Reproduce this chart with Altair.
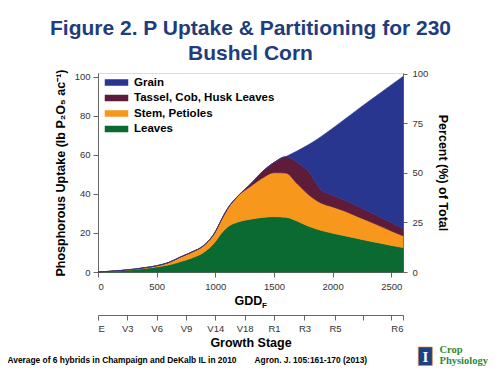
import altair as alt
import pandas as pd

# ---------------- data ----------------
gdd = [0, 100, 200, 300, 400, 500, 600, 700, 800, 900, 1000, 1050, 1100, 1200,
       1300, 1400, 1500, 1600, 1700, 1800, 1900, 2000, 2100, 2200, 2300, 2400, 2500, 2600]
# cumulative top of each layer (lb P2O5 / ac)
leaves_top = [0, 0.3, 0.7, 1.2, 1.8, 2.6, 3.6, 5.2, 7.2, 10.0, 15.5, 19.7, 22.8, 25.7,
              27.0, 27.9, 28.3, 28.0, 26.0, 23.3, 21.3, 19.8, 18.6, 17.3, 16.0, 14.8, 13.6, 12.5]
stem_top = [0, 0.35, 0.8, 1.4, 2.2, 3.2, 4.8, 7.6, 10.2, 13.5, 20.6, 26.5, 32.0, 39.3,
            43.8, 48.0, 50.8, 50.6, 45.0, 39.3, 35.3, 33.3, 31.2, 28.7, 26.2, 23.6, 21.0, 18.5]
tassel_top = [0, 0.35, 0.8, 1.4, 2.2, 3.2, 4.8, 7.6, 10.2, 13.5, 20.6, 26.5, 32.0, 39.3,
              45.0, 51.3, 56.0, 59.0, 56.0, 51.0, 42.2, 39.3, 36.8, 34.0, 31.2, 28.3, 25.3, 22.3]
grain_top = [0, 0.35, 0.8, 1.4, 2.2, 3.2, 4.8, 7.6, 10.2, 13.5, 20.6, 26.5, 32.0, 39.3,
             45.0, 51.3, 56.0, 59.0, 62.0, 65.3, 69.2, 73.5, 78.0, 82.5, 87.0, 91.3, 95.7, 100.0]

series = ["Grain", "Tassel, Cob, Husk Leaves", "Stem, Petioles", "Leaves"]
colors = ["#283690", "#5e1b3a", "#f7981c", "#0b6a31"]

gdd_ticks = [0, 500, 1000, 1500, 2000, 2500]
uptake_ticks = [0, 20, 40, 60, 80, 100]
pct_ticks = [0, 25, 50, 75, 100]
stage_gdd = [0, 250, 500, 750, 1000, 1250, 1500, 1760, 2020, 2260, 2500, 2600]
stage_names = ["E", "V3", "V6", "V9", "V14", "V18", "R1", "R3", "R5", "", "", "R6"]

title_lines = ["Figure 2. P Uptake & Partitioning for 230", "Bushel Corn"]
footer_left = "Average of 6 hybrids in Champaign and DeKalb IL in 2010"
footer_right = "Agron. J. 105:161-170 (2013)"

# ---------------- table ----------------
tops = {
    "Leaves": leaves_top,
    "Stem, Petioles": stem_top,
    "Tassel, Cob, Husk Leaves": tassel_top,
    "Grain": grain_top,
}
rows = []
lower = [0] * len(gdd)
for name in ["Leaves", "Stem, Petioles", "Tassel, Cob, Husk Leaves", "Grain"]:
    for g, lo, hi in zip(gdd, lower, tops[name]):
        rows.append({"gdd": g, "lo": lo, "hi": hi, "series": name})
    lower = tops[name]
df = pd.DataFrame(rows)

W, H = 305, 199
FONT = "Liberation Sans"
xscale = alt.Scale(domain=[0, 2600], nice=False, zero=False)

areas = alt.Chart(df).mark_area(interpolate="monotone", strokeWidth=0.6).encode(
    x=alt.X("gdd:Q", scale=xscale,
            axis=alt.Axis(values=gdd_ticks, format="d", title="GDD", grid=False, tickSize=5,
                          labelFontSize=9.5, labelColor="#333", labelPadding=4,
                          titleFontSize=12.5, titleFontWeight="bold", titleColor="#000",
                          titlePadding=4, titleX=150, domainColor="#666", tickColor="#666",
                          labelFont=FONT, titleFont=FONT)),
    y=alt.Y("hi:Q", scale=alt.Scale(domain=[0, 101.8], nice=False),
            axis=alt.Axis(values=uptake_ticks, title="Phosphorous Uptake (lb P\u2082O\u2085 ac\u207b\u00b9)",
                          grid=False, tickSize=5, labelFontSize=9.5, labelColor="#333",
                          labelPadding=3, titleFontSize=12.5, titleFontWeight="bold",
                          titleColor="#000", titlePadding=7, domainColor="#666",
                          tickColor="#666", labelFont=FONT, titleFont=FONT)),
    y2="lo:Q",
    color=alt.Color("series:N", scale=alt.Scale(domain=series, range=colors),
                    legend=alt.Legend(title=None, orient="none", legendX=12, legendY=3,
                                      symbolType="M-2,-0.45L2,-0.45L2,0.45L-2,0.45Z",
                                      symbolSize=121, labelFontSize=11.5,
                                      labelFontWeight="bold", labelColor="#000",
                                      labelFont=FONT, rowPadding=3.5, labelOffset=11)),
    stroke=alt.Stroke("series:N", scale=alt.Scale(domain=series, range=colors), legend=None),
)

pct_df = pd.DataFrame({"gdd": [0, 2600], "pct": [0, 100]})
pct = alt.Chart(pct_df).mark_point(opacity=0).encode(
    x=alt.X("gdd:Q", scale=xscale, axis=None),
    y=alt.Y("pct:Q", scale=alt.Scale(domain=[0, 100.5], nice=False),
            axis=alt.Axis(orient="right", values=pct_ticks, title="Percent (%) of Total",
                          titleAngle=90, grid=False, tickSize=4, labelFontSize=9.5,
                          labelColor="#333", labelPadding=5, titleFontSize=12.5,
                          titleFontWeight="bold", titleColor="#000", titlePadding=8,
                          domainColor="#666", tickColor="#666", labelFont=FONT,
                          titleFont=FONT)),
)

label_expr = ""
for g, n in zip(stage_gdd, stage_names):
    label_expr += f"datum.value == {g} ? '{n}' : "
label_expr += "''"

stage_df = pd.DataFrame({"gdd": stage_gdd, "stage": stage_names})
stage = alt.Chart(stage_df).mark_point(opacity=0).encode(
    x=alt.X("gdd:Q", scale=xscale,
            axis=alt.Axis(orient="bottom", offset=43, values=stage_gdd, labelExpr=label_expr,
                          title="Growth Stage", grid=False, tickSize=5, labelFontSize=9.5,
                          labelColor="#333", labelPadding=3, titleFontSize=12.5,
                          titleFontWeight="bold", titleColor="#000", titlePadding=4,
                          domainColor="#666", tickColor="#666", labelFont=FONT,
                          titleFont=FONT, labelOverlap=False)),
    y=alt.Y("gdd:Q", axis=None),
)

def note(text, x, y, size, color="#000", align="left", weight="bold", font=FONT, baseline="middle"):
    return alt.Chart(pd.DataFrame({"t": [text]})).mark_text(
        align=align, baseline=baseline, fontSize=size, fontWeight=weight, color=color, font=font
    ).encode(text="t:N", x=alt.value(x), y=alt.value(y))

sub_f = note("F", 164, 232.5, 8)
foot1 = note(footer_left, -90.5, 286.5, 8.4)
foot2 = note(footer_right, 156.5, 286.5, 8.4)

logo_box = alt.Chart(pd.DataFrame({"a": [1]})).mark_rect(
    color="#1d3f84", stroke="#f58025", strokeWidth=0.6
).encode(x=alt.value(320.3), x2=alt.value(334.3), y=alt.value(274), y2=alt.value(292.5))
logo_i = note("I", 327.3, 283.6, 15, color="#ffffff", align="center", font="Liberation Serif")
crop1 = note("Crop", 341.5, 279.8, 10.5, color="#2f8a35", font="Liberation Serif", baseline="alphabetic")
crop2 = note("Physiology", 341.5, 291.2, 10.5, color="#2f8a35", font="Liberation Serif", baseline="alphabetic")

chart = alt.layer(
    areas, pct, stage, sub_f, foot1, foot2, logo_box, logo_i, crop1, crop2
).resolve_scale(
    x="independent", y="independent", color="independent", stroke="independent"
).properties(
    width=W, height=H,
    autosize=alt.AutoSizeParams(type="none"),
    padding={"left": 90, "top": 65, "right": 89, "bottom": 94},
    title=alt.TitleParams(title_lines, fontSize=21, font=FONT, fontWeight="bold",
                          color="#1f3d7c", anchor="middle", offset=5, lineHeight=25),
).configure_view(stroke="#888", strokeWidth=1).configure(background="white")

chart.save("out.html", embed_options={"renderer": "svg", "actions": False})
